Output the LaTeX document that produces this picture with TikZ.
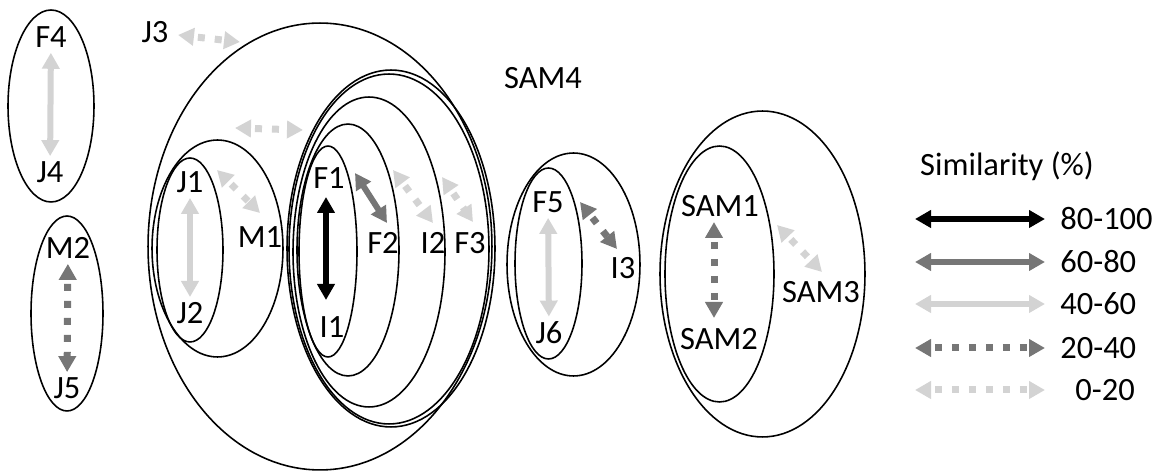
\documentclass[tikz,border=0pt]{standalone}
\usepackage{fontspec}
\setmainfont{Carlito}
\usetikzlibrary{arrows.meta,calc}
\definecolor{simdark}{HTML}{767676}
\definecolor{simlight}{HTML}{D3D3D3}
\tikzset{
  lbl/.style={inner sep=0.1cm,font=\fontsize{18.5}{22}\selectfont},
  ring/.style={draw,line width=0.9pt},
  simarrow/.style={line width=0.12cm,
    {Triangle[width=0.34cm,length=0.32cm]}-{Triangle[width=0.34cm,length=0.32cm]}},
  simdots/.style={simarrow,line width=0.14cm,
    dash pattern=on 0.14cm off 0.2cm,dash phase=0.24cm},
  s100/.style={simarrow,draw=black},
  s80/.style={simarrow,draw=simdark},
  s60/.style={simarrow,draw=simlight},
  s40/.style={simdots,draw=simdark},
  s20/.style={simdots,draw=simlight},
}
\begin{document}
\begin{tikzpicture}[x=0.02cm,y=-0.02cm]
\useasboundingbox (0,0) rectangle (1161,472);

% ( groups: one unit is one pixel of the sketch, y runs downwards )
\draw[ring] (51,106) ellipse [x radius=0.86cm,y radius=1.92cm];
\draw[ring] (67,313.5) ellipse [x radius=0.72cm,y radius=1.95cm];
\draw[ring] (320,246.5) ellipse [x radius=3.44cm,y radius=4.47cm];
\draw[ring] (217.5,248.5) ellipse [x radius=1.31cm,y radius=2.17cm];
\draw[ring] (190,250) ellipse [x radius=0.66cm,y radius=1.84cm];
\draw[ring] (391,248.5) ellipse [x radius=2.08cm,y radius=3.57cm];
\draw[ring] (389,249) ellipse [x radius=2.0cm,y radius=3.5cm];
\draw[ring] (369,252) ellipse [x radius=1.52cm,y radius=3.1cm];
\draw[ring] (348,250) ellipse [x radius=1.02cm,y radius=2.52cm];
\draw[ring] (328,251.5) ellipse [x radius=0.58cm,y radius=2.11cm];
\draw[ring] (573.5,264.5) ellipse [x radius=1.33cm,y radius=2.23cm];
\draw[ring] (548.5,263.5) ellipse [x radius=0.67cm,y radius=1.91cm];
\draw[ring] (762.5,274) ellipse [x radius=2.05cm,y radius=3.26cm];
\draw[ring] (719.5,274) ellipse [x radius=1.09cm,y radius=2.56cm];

\path[every node/.style={lbl}]
(51,37) node(F4){F4} (50,172) node(J4){J4}
(68,248) node(M2){M2} (67,388) node(J5){J5}
(155,32) node(J3){J3} (543,78) node(SAM4){SAM4}
(190,182) node(J1){J1} (190,313) node(J2){J2} (260,237) node(M1){M1}
(329,178) node(F1){F1} (332,327) node(I1){I1}
(383,243) node(F2){F2} (433,243) node(I2){I2} (470,243) node(F3){F3}
(548,202) node(F5){F5} (549,333) node(J6){J6} (623,268) node(I3){I3}
(720,206) node(SAM1){SAM1} (719,339) node(SAM2){SAM2}
(821,292) node(SAM3){SAM3};

\coordinate (j3tip) at (240,42);
\coordinate (ringL) at (235,128);
\coordinate (ringR) at (303,130);
\coordinate (i2from) at (393,170);
\coordinate (f3from) at (442,177);
\coordinate (sam3from) at (777,225);

\draw[s60] (F4) -- (J4);
\draw[s40] (M2) -- (J5);
\draw[s20] ($(J3)+(23,3)$) -- (j3tip);
\draw[s20] (ringL) -- (ringR);
\draw[s20] ($(J1)+(27,-12)$) -- ($(M1)+(0,-24)$);
\draw[s60] (J1) -- (J2);
\draw[s100] ($(F1)+(-3,19)$) -- ($(I1)+(-6,-27)$);
\draw[s80] ($(F1)+(26,-5)$) -- ($(F2)+(4,-20)$);
\draw[s20] (i2from) -- ($(I2)+(0,-20)$);
\draw[s20] (f3from) -- ($(F3)+(3,-21)$);
\draw[s40] ($(F5)+(32,0)$) -- ($(I3)+(-6,-19)$);
\draw[s60] (F5) -- (J6);
\draw[s40] ($(SAM1)+(-6,16)$) -- ($(SAM2)+(-5,-21)$);
\draw[s20] (sam3from) -- ($(SAM3)+(1,-20)$);

% legend
\node[lbl] (simtitle) at (1007,166) {Similarity (\%)};
\foreach \st/\yy/\xx/\txt [count=\i] in
  {s100/219/1055/80-100,s80/262/1055/60-80,s60/304/1055/40-60,
   s40/348/1055/20-40,s20/390/1070/0-20}{
  \node[lbl,anchor=west] (leg\i) at (\xx,\yy) {\txt};
  \coordinate (legfrom\i) at (915,\yy);
  \coordinate (legto\i) at (1045,\yy);
  \draw[\st] (legfrom\i) -- (legto\i);
}
\end{tikzpicture}
\end{document}
